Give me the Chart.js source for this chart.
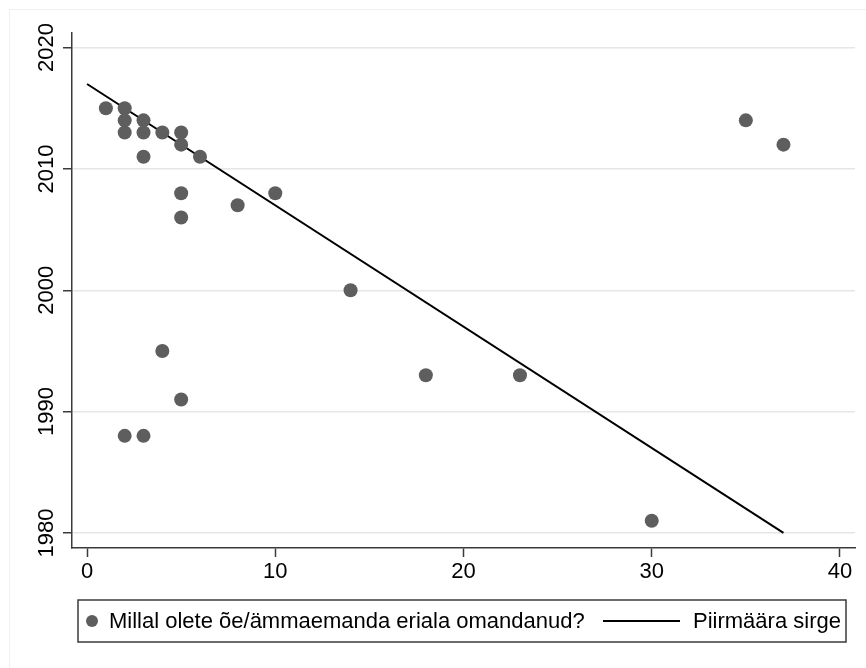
<!DOCTYPE html>
<html>
<head>
<meta charset="utf-8">
<script src="https://cdn.jsdelivr.net/npm/chart.js@4.4.1/dist/chart.umd.min.js"></script>
<style>
  html, body { margin: 0; padding: 0; background: #fff; }
  #wrap { position: relative; width: 866px; height: 668px; }
</style>
</head>
<body>
<div id="wrap"><canvas id="yearChart" width="866" height="668"></canvas></div>
<script>
/* global Chart */

// years since graduating vs. year the specialty was obtained
const yearsAgo = [1, 2, 2, 2, 3, 3, 3, 4, 5, 5, 6, 5, 5, 8, 10, 14, 18, 23, 30, 35, 37, 4, 5, 2, 3];
const gradYear = [2015, 2015, 2014, 2013, 2014, 2013, 2011, 2013, 2013, 2012, 2011, 2008, 2006, 2007,
  2008, 2000, 1993, 1993, 1981, 2014, 2012, 1995, 1991, 1988, 1988];

// fitted boundary line end points
const fitX = [0, 37];
const fitY = [2017, 1980];

const xTicks = [0, 10, 20, 30, 40];
const yTicks = [1980, 1990, 2000, 2010, 2020];

const seriesLabels = ['Millal olete õe/ämmaemanda eriala omandanud?', 'Piirmäära sirge'];

const FONT = '"Liberation Sans", Arial, Helvetica, sans-serif';
const FONT_SIZE = 22;
const AXIS = '#3a3a3a';
const DOT = '#5e5e5e';

// y labels are drawn turned on their side, next to the axis
const sideLabels = {
  id: 'sideLabels',
  afterDraw(chart) {
    const { ctx } = chart;
    const yScale = chart.scales.y;
    ctx.save();
    ctx.fillStyle = '#000';
    ctx.font = `${FONT_SIZE}px ${FONT}`;
    ctx.textAlign = 'center';
    ctx.textBaseline = 'middle';
    yScale.ticks.forEach((t) => {
      const py = yScale.getPixelForValue(t.value);
      ctx.save();
      ctx.translate(47, py);
      ctx.rotate(-Math.PI / 2);
      ctx.fillText(String(t.value), 0, 0);
      ctx.restore();
    });
    ctx.restore();
  },
};

// boxed legend under the plot, plus the faint outer frame
const boxLegend = {
  id: 'boxLegend',
  afterDraw(chart) {
    const { ctx } = chart;
    const sets = chart.data.datasets;
    ctx.save();
    ctx.strokeStyle = '#f0f0f0';
    ctx.lineWidth = 1;
    ctx.strokeRect(9.5, 9.5, 900, 700);

    ctx.strokeStyle = AXIS;
    ctx.lineWidth = 1.5;
    ctx.strokeRect(78, 600, 768, 42);

    const cy = 621;
    ctx.fillStyle = sets[0].backgroundColor;
    ctx.beginPath();
    ctx.arc(92, cy, 6, 0, Math.PI * 2);
    ctx.fill();

    ctx.fillStyle = '#000';
    ctx.font = `${FONT_SIZE}px ${FONT}`;
    ctx.textBaseline = 'middle';
    ctx.textAlign = 'left';
    ctx.fillText(sets[0].label, 109, cy + 1);

    ctx.strokeStyle = sets[1].borderColor;
    ctx.lineWidth = 2;
    ctx.beginPath();
    ctx.moveTo(603, cy);
    ctx.lineTo(680, cy);
    ctx.stroke();
    ctx.fillText(sets[1].label, 693, cy + 1);
    ctx.restore();
  },
};

function yearChart() {
  const points = yearsAgo.map((x, i) => ({ x, y: gradYear[i] }));
  const fitLine = fitX.map((x, i) => ({ x, y: fitY[i] }));

  const config = {
    type: 'scatter',
    data: {
      datasets: [
        {
          type: 'scatter',
          label: seriesLabels[0],
          data: points,
          backgroundColor: DOT,
          borderWidth: 0,
          pointRadius: 7,
          pointHoverRadius: 7,
        },
        {
          type: 'line',
          label: seriesLabels[1],
          data: fitLine,
          borderColor: '#000',
          borderWidth: 2,
          pointRadius: 0,
          fill: false,
        },
      ],
    },
    options: {
      responsive: false,
      animation: false,
      layout: { padding: { left: 0, top: 33, right: 11, bottom: 0 } },
      plugins: {
        legend: { display: false },
        tooltip: { enabled: false },
      },
      scales: {
        x: {
          type: 'linear',
          min: -0.8,
          max: 40.8,
          afterBuildTicks: (scale) => { scale.ticks = xTicks.map((value) => ({ value })); },
          afterFit: (scale) => { scale.height = 120; },
          grid: { drawOnChartArea: false, tickLength: 9, tickColor: AXIS, tickWidth: 1.5 },
          border: { color: AXIS, width: 1.5 },
          ticks: { color: '#000', font: { family: FONT, size: FONT_SIZE }, padding: 2, maxRotation: 0 },
        },
        y: {
          type: 'linear',
          min: 1978.76,
          max: 2021.2,
          afterBuildTicks: (scale) => { scale.ticks = yTicks.map((value) => ({ value })); },
          afterFit: (scale) => { scale.width = 72; },
          grid: { color: '#e6e6e6', lineWidth: 1.5, tickLength: 9, tickColor: AXIS, tickWidth: 1.5 },
          border: { color: AXIS, width: 1.5 },
          ticks: { color: 'rgba(0,0,0,0)', font: { family: FONT, size: FONT_SIZE } },
        },
      },
    },
    plugins: [sideLabels, boxLegend],
  };

  return new Chart(document.getElementById('yearChart'), config);
}

document.addEventListener('DOMContentLoaded', yearChart);
</script>
</body>
</html>
